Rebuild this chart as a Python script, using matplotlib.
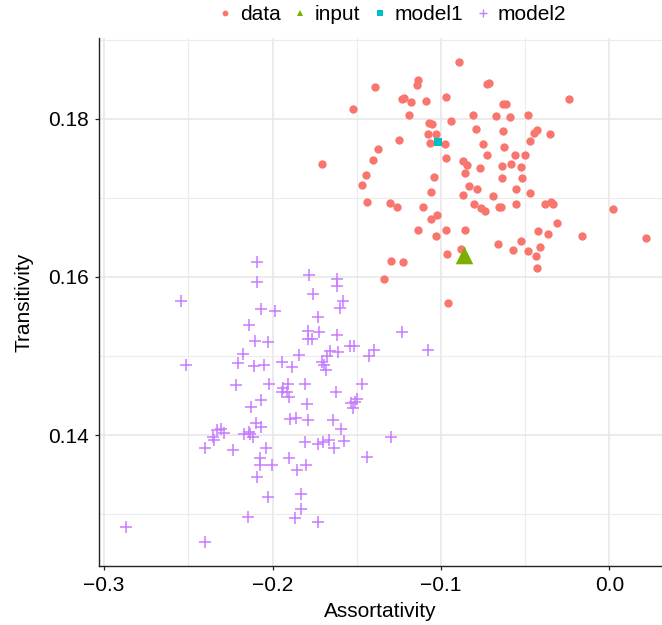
import matplotlib.pyplot as plt
from matplotlib.ticker import FixedLocator
from matplotlib.lines import Line2D

plt.rcParams['font.family'] = ['Liberation Sans', 'DejaVu Sans']

# observed networks
data_x = [-0.0891, -0.1393, -0.1136, -0.1144, -0.0729, -0.0713, -0.1230, -0.1218, -0.1178, -0.1087,
          -0.0970, -0.0242, -0.1520, -0.0630, -0.0616, -0.1192, -0.0808, -0.0674, -0.0591, -0.0482,
          -0.1073, -0.1052, -0.0939, -0.0794, -0.0632, -0.0448, -0.0432, -0.0353, -0.1077, -0.1028,
          -0.1251, -0.1064, -0.0978, -0.0753, -0.0474, -0.1372, -0.0628, -0.0729, -0.0559, -0.0503,
          -0.1405, -0.0972, -0.0869, -0.0844, -0.0770, -0.0638, -0.0583, -0.0527, -0.1447, -0.0856,
          -0.1043, -0.0640, -0.0518, -0.1469, -0.0836, -0.0788, -0.0553, -0.1061, -0.0470, -0.0871,
          -0.0691, -0.1437, -0.1303, -0.1263, -0.1109, -0.0802, -0.0763, -0.0739, -0.0656, -0.0644,
          -0.0557, -0.0383, -0.0347, -0.0334, 0.0021, -0.1061, -0.1022, -0.0312, -0.1138, -0.0969,
          -0.0856, -0.0426, -0.0365, -0.1031, -0.0163, 0.0215, -0.0660, -0.0523, -0.0411, -0.0571,
          -0.0485, -0.0880, -0.0964, -0.0438, -0.1297, -0.1224, -0.0428, -0.1341, -0.0958, -0.1708]
data_y = [0.1872, 0.1840, 0.1849, 0.1843, 0.1844, 0.1845, 0.1825, 0.1826, 0.1822, 0.1823,
          0.1828, 0.1825, 0.1813, 0.1819, 0.1819, 0.1805, 0.1805, 0.1804, 0.1802, 0.1805,
          0.1795, 0.1794, 0.1797, 0.1787, 0.1785, 0.1782, 0.1786, 0.1781, 0.1781, 0.1781,
          0.1773, 0.1770, 0.1768, 0.1768, 0.1772, 0.1762, 0.1764, 0.1754, 0.1754, 0.1755,
          0.1748, 0.1751, 0.1747, 0.1742, 0.1738, 0.1741, 0.1743, 0.1739, 0.1729, 0.1731,
          0.1727, 0.1725, 0.1725, 0.1716, 0.1715, 0.1712, 0.1711, 0.1707, 0.1706, 0.1704,
          0.1703, 0.1695, 0.1694, 0.1689, 0.1689, 0.1692, 0.1687, 0.1683, 0.1688, 0.1689,
          0.1693, 0.1692, 0.1695, 0.1693, 0.1686, 0.1673, 0.1678, 0.1668, 0.1659, 0.1659,
          0.1659, 0.1658, 0.1655, 0.1652, 0.1652, 0.1649, 0.1642, 0.1645, 0.1638, 0.1634,
          0.1633, 0.1635, 0.1629, 0.1627, 0.1620, 0.1619, 0.1611, 0.1598, 0.1567, 0.1743]

input_x = [-0.0862]
input_y = [0.1628]

model1_x = [-0.1020]
model1_y = [0.1771]

model2_x = [-0.2092, -0.2090, -0.2543, -0.2068, -0.1983, -0.2138, -0.2101, -0.2027, -0.2177, -0.2205,
            -0.2515, -0.2108, -0.2050, -0.1945, -0.1884, -0.1841, -0.2215, -0.2021, -0.1936, -0.1907,
            -0.1916, -0.1946, -0.1903, -0.2068, -0.2128, -0.2095, -0.2068, -0.1896, -0.1861, -0.2328,
            -0.2304, -0.2285, -0.2352, -0.2348, -0.2168, -0.2142, -0.2136, -0.2113, -0.2398, -0.2237,
            -0.2038, -0.2077, -0.2077, -0.2004, -0.1903, -0.1853, -0.2092, -0.2027, -0.1833, -0.2148,
            -0.1868, -0.1833, -0.2872, -0.2399, -0.1783, -0.1617, -0.1617, -0.1758, -0.1583, -0.1601,
            -0.1732, -0.1788, -0.1724, -0.1788, -0.1764, -0.1617, -0.1540, -0.1515, -0.1230, -0.1075,
            -0.1657, -0.1613, -0.1677, -0.1429, -0.1396, -0.1708, -0.1693, -0.1684, -0.1809, -0.1469,
            -0.1623, -0.1797, -0.1532, -0.1510, -0.1500, -0.1524, -0.1792, -0.1639, -0.1593, -0.1297,
            -0.1810, -0.1728, -0.1698, -0.1663, -0.1576, -0.1635, -0.1442, -0.1804, -0.1732]
model2_y = [0.1619, 0.1594, 0.1570, 0.1560, 0.1557, 0.1539, 0.1519, 0.1518, 0.1502, 0.1491,
            0.1488, 0.1487, 0.1488, 0.1492, 0.1486, 0.1501, 0.1463, 0.1465, 0.1459, 0.1465,
            0.1455, 0.1455, 0.1448, 0.1444, 0.1435, 0.1415, 0.1410, 0.1420, 0.1421, 0.1406,
            0.1408, 0.1403, 0.1398, 0.1394, 0.1401, 0.1404, 0.1401, 0.1397, 0.1383, 0.1381,
            0.1384, 0.1371, 0.1362, 0.1362, 0.1371, 0.1356, 0.1347, 0.1322, 0.1325, 0.1296,
            0.1295, 0.1306, 0.1284, 0.1265, 0.1603, 0.1597, 0.1589, 0.1578, 0.1569, 0.1561,
            0.1549, 0.1532, 0.1530, 0.1522, 0.1521, 0.1527, 0.1513, 0.1513, 0.1531, 0.1508,
            0.1506, 0.1505, 0.1500, 0.1500, 0.1507, 0.1493, 0.1489, 0.1482, 0.1465, 0.1464,
            0.1455, 0.1439, 0.1440, 0.1442, 0.1446, 0.1434, 0.1419, 0.1419, 0.1408, 0.1398,
            0.1391, 0.1389, 0.1391, 0.1394, 0.1393, 0.1383, 0.1372, 0.1362, 0.1290]

x_ticks = [-0.3, -0.2, -0.1, 0.0]
y_ticks = [0.14, 0.16, 0.18]

c_data, c_input, c_model1, c_model2 = '#F8766D', '#7CAE00', '#00BFC4', '#C77CFF'

fig = plt.figure(figsize=(6.62, 6.25), dpi=100)
ax = fig.add_axes([99 / 662, 59 / 625, 563 / 662, 528 / 625])

ax.scatter(data_x, data_y, s=36, color=c_data, linewidths=0, zorder=3)
ax.scatter(input_x, input_y, s=160, marker='^', color=c_input, linewidths=0, zorder=4)
ax.scatter(model1_x, model1_y, s=36, marker='s', color=c_model1, linewidths=0, zorder=4)
ax.scatter(model2_x, model2_y, s=85, marker='+', color=c_model2, linewidths=1.1, zorder=3)

ax.set_xlim(-0.30297, 0.03116)
ax.set_ylim(0.12342, 0.19025)

ax.xaxis.set_major_locator(FixedLocator(x_ticks))
ax.yaxis.set_major_locator(FixedLocator(y_ticks))
ax.xaxis.set_minor_locator(FixedLocator([-0.25, -0.15, -0.05]))
ax.yaxis.set_minor_locator(FixedLocator([0.13, 0.15, 0.17, 0.19]))
ax.set_xticklabels(['\u22120.3', '\u22120.2', '\u22120.1', '0.0'])
ax.set_yticklabels(['0.14', '0.16', '0.18'])

ax.grid(which='major', color='#e6e6e6', linewidth=1.1)
ax.grid(which='minor', color='#ececec', linewidth=0.8)
ax.set_axisbelow(True)

for side in ['top', 'right']:
    ax.spines[side].set_visible(False)
for side in ['left', 'bottom']:
    ax.spines[side].set_color('#222222')
    ax.spines[side].set_linewidth(1.0)

ax.tick_params(which='major', length=3, width=0.9, color='#222222', labelsize=15, pad=4)
ax.tick_params(which='minor', length=0)

ax.set_xlabel('Assortativity', fontsize=15, labelpad=5)
ax.set_ylabel('Transitivity', fontsize=15, labelpad=11)

handles = [
    Line2D([], [], ls='', marker='o', ms=4.2, color=c_data, mew=0),
    Line2D([], [], ls='', marker='^', ms=5, color=c_input, mew=0),
    Line2D([], [], ls='', marker='s', ms=4.2, color=c_model1, mew=0),
    Line2D([], [], ls='', marker='+', ms=6, color=c_model2, mew=1),
]
fig.legend(handles, ['data', 'input', 'model1', 'model2'], loc='center',
           bbox_to_anchor=(392 / 662, 1 - 15 / 625), ncol=4, frameon=False,
           fontsize=15, handlelength=0.7, handletextpad=0.35, columnspacing=0.6,
           borderaxespad=0, borderpad=0)

fig.savefig('out.png', dpi=100)
